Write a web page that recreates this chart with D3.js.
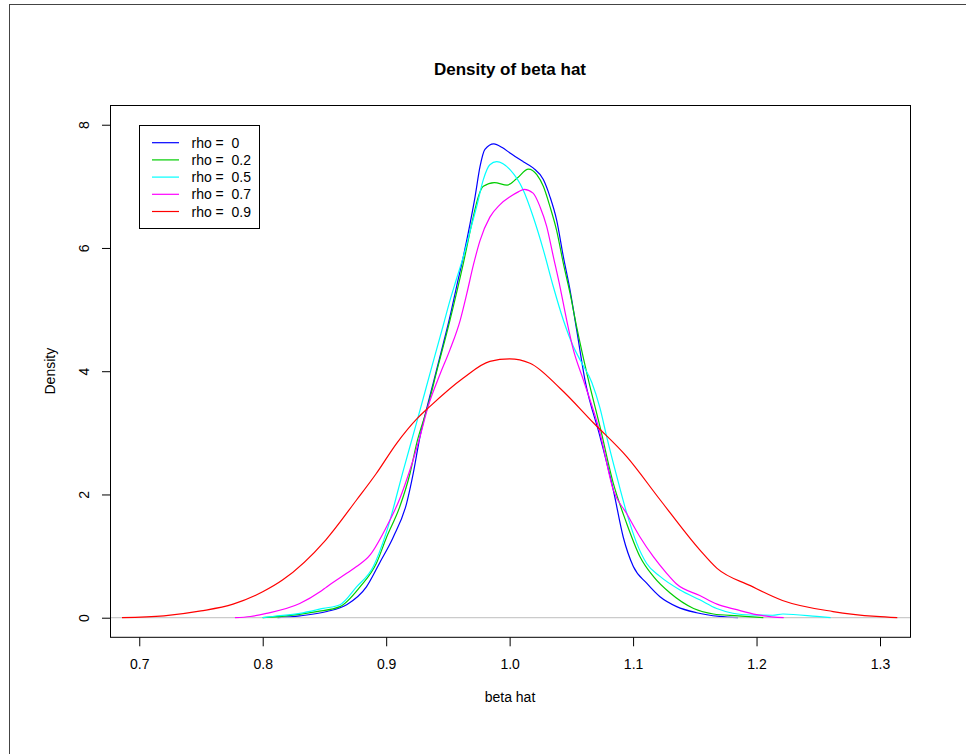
<!DOCTYPE html>
<html>
<head>
<meta charset="utf-8">
<script src="https://cdnjs.cloudflare.com/ajax/libs/d3/7.8.5/d3.min.js"></script>
<style>
	body { margin: 0; background: #fff; }
	text { font-family: "Liberation Sans", Arial, Helvetica, sans-serif; fill: #000; }
</style>
</head>
<body>
<div id="chart"></div>
<script>
// density estimates, [beta hat, density]
var densRho0 = [[0.812,0],[0.83,0.03],[0.852,0.10],[0.868,0.21],[0.884,0.50],[0.895,0.90],[0.9058,1.31],[0.9166,1.86],[0.922,2.35],[0.9274,2.94],[0.9335,3.45],[0.938,3.80],[0.9463,4.45],[0.9517,4.89],[0.957,5.37],[0.9625,5.86],[0.968,6.40],[0.972,6.83],[0.976,7.32],[0.980,7.60],[0.9872,7.69],[0.994,7.63],[1.0003,7.54],[1.011,7.40],[1.019,7.30],[1.0273,7.11],[1.0327,6.83],[1.038,6.46],[1.0435,5.86],[1.0489,5.32],[1.0543,4.67],[1.061,3.86],[1.0732,2.94],[1.084,2.07],[1.092,1.31],[1.1002,0.83],[1.111,0.56],[1.1218,0.34],[1.1353,0.18],[1.1515,0.08],[1.17,0.02],[1.185,0]]
var densRho02 = [[0.80,0],[0.819,0.03],[0.8437,0.10],[0.8626,0.18],[0.8788,0.50],[0.892,0.88],[0.9004,1.31],[0.911,1.80],[0.9193,2.34],[0.9247,2.83],[0.934,3.45],[0.941,4.0],[0.9517,4.83],[0.9625,5.75],[0.9706,6.51],[0.9746,6.83],[0.9787,7.00],[0.9876,7.06],[0.998,7.02],[1.006,7.13],[1.0152,7.28],[1.022,7.19],[1.0273,7.00],[1.0327,6.67],[1.038,6.29],[1.0435,5.75],[1.0489,5.27],[1.0543,4.72],[1.0638,3.86],[1.0732,3.10],[1.084,2.18],[1.0948,1.53],[1.1056,0.99],[1.1164,0.67],[1.13,0.40],[1.149,0.15],[1.165,0.06],[1.185,0.03],[1.2055,0]]
var densRho05 = [[0.80,0],[0.808,0.02],[0.83,0.07],[0.849,0.15],[0.8626,0.21],[0.876,0.50],[0.8896,0.83],[0.9004,1.40],[0.914,2.40],[0.9247,3.17],[0.936,4.0],[0.9463,4.75],[0.9517,5.15],[0.957,5.5],[0.9625,5.86],[0.969,6.35],[0.9733,6.67],[0.9787,7.11],[0.984,7.35],[0.9895,7.40],[1.0003,7.27],[1.011,6.94],[1.019,6.51],[1.0273,5.97],[1.0354,5.37],[1.0435,4.83],[1.0516,4.40],[1.058,4.15],[1.0665,3.82],[1.0732,3.40],[1.0786,2.94],[1.0867,2.30],[1.0948,1.70],[1.1029,1.21],[1.111,0.88],[1.1218,0.67],[1.138,0.45],[1.154,0.29],[1.1677,0.15],[1.1947,0.044],[1.213,0.04],[1.2214,0.06],[1.2487,0.02],[1.26,0]]
var densRho07 = [[0.7775,0],[0.79,0.02],[0.803,0.07],[0.830,0.23],[0.8464,0.42],[0.8518,0.50],[0.868,0.72],[0.876,0.83],[0.887,1.02],[0.9004,1.48],[0.911,1.93],[0.9193,2.40],[0.9274,2.94],[0.934,3.43],[0.9436,3.95],[0.9517,4.35],[0.960,4.83],[0.9652,5.25],[0.9706,5.72],[0.976,6.12],[0.984,6.50],[0.992,6.70],[1.0003,6.83],[1.007,6.91],[1.0118,6.95],[1.019,6.89],[1.0246,6.67],[1.030,6.35],[1.0354,5.86],[1.0408,5.37],[1.0462,4.83],[1.0516,4.35],[1.0597,3.86],[1.0732,3.0],[1.084,2.07],[1.0948,1.69],[1.1056,1.31],[1.1164,0.99],[1.1272,0.72],[1.135,0.55],[1.154,0.36],[1.168,0.22],[1.184,0.13],[1.20,0.05],[1.222,0]]
var densRho09 = [[0.686,0],[0.72,0.03],[0.75,0.11],[0.776,0.22],[0.80,0.42],[0.816,0.61],[0.851,1.26],[0.876,1.91],[0.892,2.34],[0.9085,2.83],[0.925,3.23],[0.9355,3.43],[0.9625,3.89],[0.984,4.16],[1.000,4.20],[1.0165,4.13],[1.041,3.72],[1.068,3.16],[1.095,2.61],[1.122,1.91],[1.154,1.10],[1.168,0.80],[1.195,0.52],[1.221,0.28],[1.262,0.10],[1.297,0.02],[1.314,0]]

var rhoValues = ['0', '0.2', '0.5', '0.7', '0.9']
var xTicks = [0.7, 0.8, 0.9, 1.0, 1.1, 1.2, 1.3]
var yTicks = [0, 2, 4, 6, 8]

var seriesColors = ['#0000ff', '#00cd00', '#00ffff', '#ff00ff', '#ff0000']
var allDens = [densRho0, densRho02, densRho05, densRho07, densRho09]

var width = 966,
	height = 754,
	box = {left: 110, right: 910, top: 105, bottom: 637.3}

var svg = d3.select('#chart').append('svg')
	.attr('width', width)
	.attr('height', height)

svg.append('rect')
	.attr('width', width)
	.attr('height', height)
	.attr('fill', '#fff')

// outer frame, only left and top edges are inside the picture
svg.append('rect')
	.attr('x', 9.5)
	.attr('y', 4.5)
	.attr('width', 1000)
	.attr('height', 800)
	.attr('fill', 'none')
	.attr('stroke', '#444')

var x = d3.scaleLinear().domain([0.6763, 1.3243]).range([box.left, box.right])
var y = d3.scaleLinear().domain([-0.318, 8.32]).range([box.bottom, box.top])

var line = d3.line()
	.x(function(d) { return x(d[0]) })
	.y(function(d) { return y(d[1]) })
	.curve(d3.curveMonotoneX)

var curves = svg.append('g')

allDens.forEach(function(dens, i) {
	curves.append('path')
		.datum(dens)
		.attr('d', line)
		.attr('fill', 'none')
		.attr('stroke', seriesColors[i])
		.attr('stroke-width', 1.2)
	if (i === 0) {
		// zero line goes in right after the first density, as plot.density does
		curves.append('line')
			.attr('x1', box.left)
			.attr('x2', box.right)
			.attr('y1', y(0))
			.attr('y2', y(0))
			.attr('stroke', '#bebebe')
			.attr('stroke-width', 1)
	}
})

// axes
var xAxis = svg.append('g')
	.attr('transform', 'translate(0,' + box.bottom + ')')
	.call(d3.axisBottom(x).tickValues(xTicks).tickSize(9).tickFormat(d3.format('.1f')))
xAxis.select('.domain').remove()
xAxis.selectAll('text')
	.attr('y', 32)
	.attr('dy', 0)
	.style('font-size', '14px')
	.style('font-family', '"Liberation Sans", Arial, sans-serif')

var yAxis = svg.append('g')
	.attr('transform', 'translate(' + box.left + ',0)')
	.call(d3.axisLeft(y).tickValues(yTicks).tickSize(8).tickFormat(d3.format('d')))
yAxis.select('.domain').remove()
yAxis.selectAll('text')
	.attr('transform', 'rotate(-90)')
	.attr('x', 0)
	.attr('y', -21)
	.attr('dy', 0)
	.style('text-anchor', 'middle')
	.style('font-size', '14px')
	.style('font-family', '"Liberation Sans", Arial, sans-serif')

svg.selectAll('.tick line').attr('stroke', '#000')

// plot box
svg.append('rect')
	.attr('x', box.left + 0.5)
	.attr('y', box.top + 0.5)
	.attr('width', box.right - box.left)
	.attr('height', box.bottom - box.top - 0.5)
	.attr('fill', 'none')
	.attr('stroke', '#000')

// titles
svg.append('text')
	.attr('x', (box.left + box.right) / 2)
	.attr('y', 75)
	.attr('text-anchor', 'middle')
	.style('font-size', '17px')
	.style('font-weight', 'bold')
	.text('Density of beta hat')

svg.append('text')
	.attr('x', (box.left + box.right) / 2)
	.attr('y', 702)
	.attr('text-anchor', 'middle')
	.style('font-size', '14px')
	.text('beta hat')

svg.append('text')
	.attr('transform', 'translate(55,' + ((box.top + box.bottom) / 2) + ') rotate(-90)')
	.attr('text-anchor', 'middle')
	.style('font-size', '14px')
	.text('Density')

// legend
var legend = svg.append('g')
	.attr('transform', 'translate(139.5,125.5)')

legend.append('rect')
	.attr('width', 120)
	.attr('height', 103)
	.attr('fill', '#fff')
	.attr('stroke', '#000')

var rows = legend.selectAll('g.row')
	.data(rhoValues)
	.enter().append('g')
	.attr('class', 'row')
	.attr('transform', function(d, i) { return 'translate(0,' + (17.2 + i * 17.2) + ')' })

rows.append('line')
	.attr('x1', 12.5)
	.attr('x2', 39.5)
	.attr('stroke', function(d, i) { return seriesColors[i] })
	.attr('stroke-width', 1.2)

rows.append('text')
	.attr('x', 52)
	.attr('y', 5)
	.style('font-size', '14px')
	.style('white-space', 'pre')
	.text(function(d) { return 'rho =  ' + d })
</script>
</body>
</html>
